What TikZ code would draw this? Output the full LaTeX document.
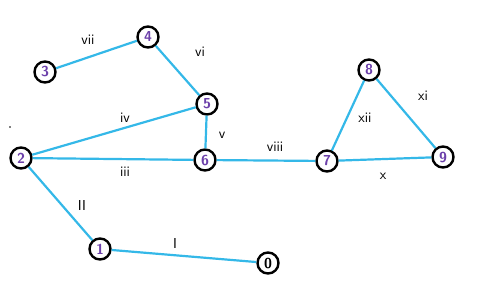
\documentclass[tikz,border=0pt]{standalone}
\usepackage{tikz}

\definecolor{edgeblue}{RGB}{52,184,232}
\definecolor{numpurple}{RGB}{108,64,170}

\tikzset{
  vertex/.style={circle, draw=black, line width=2.4pt, fill=white,
    minimum size=21pt, inner sep=0pt, text=numpurple, font=\Large\sffamily\bfseries},
  link/.style={edgeblue, line width=2.2pt},
  tag/.style={font=\Large\sffamily, inner sep=1pt}
}

\begin{document}
\begin{tikzpicture}[x=1pt, y=-1pt]

\useasboundingbox (0, 0) rectangle (492, 292);

\node[vertex, text=black] (n0) at (268, 263) {0};
\node[vertex] (n1) at (100, 249) {1};
\node[vertex] (n2) at (21, 158) {2};
\node[vertex] (n3) at (45, 72) {3};
\node[vertex] (n4) at (148, 37) {4};
\node[vertex] (n5) at (207, 104) {5};
\node[vertex] (n6) at (205, 160) {6};
\node[vertex] (n7) at (327, 161) {7};
\node[vertex] (n8) at (369, 70) {8};
\node[vertex] (n9) at (443, 157) {9};

\draw[link] (n0) -- (n1);
\draw[link] (n1) -- (n2);
\draw[link] (n2) -- (n6);
\draw[link] (n2) -- (n5);
\draw[link] (n5) -- (n6);
\draw[link] (n4) -- (n5);
\draw[link] (n3) -- (n4);
\draw[link] (n6) -- (n7);
\draw[link] (n7) -- (n9);
\draw[link] (n8) -- (n9);
\draw[link] (n7) -- (n8);

\node[tag] (t1) at (175, 243) {I};
\node[tag] (t2) at (82, 205) {II};
\node[tag] (t3) at (125, 172) {iii};
\node[tag] (t4) at (125, 118) {iv};
\node[tag] (t5) at (222, 135) {v};
\node[tag] (t6) at (200, 52) {vi};
\node[tag] (t7) at (88, 40) {vii};
\node[tag] (t8) at (275, 147) {viii};
\node[tag] (t10) at (383, 176) {x};
\node[tag] (t11) at (423, 96) {xi};
\node[tag] (t12) at (365, 118) {xii};

\fill (10, 127) circle (0.9pt);

\end{tikzpicture}
\end{document}
